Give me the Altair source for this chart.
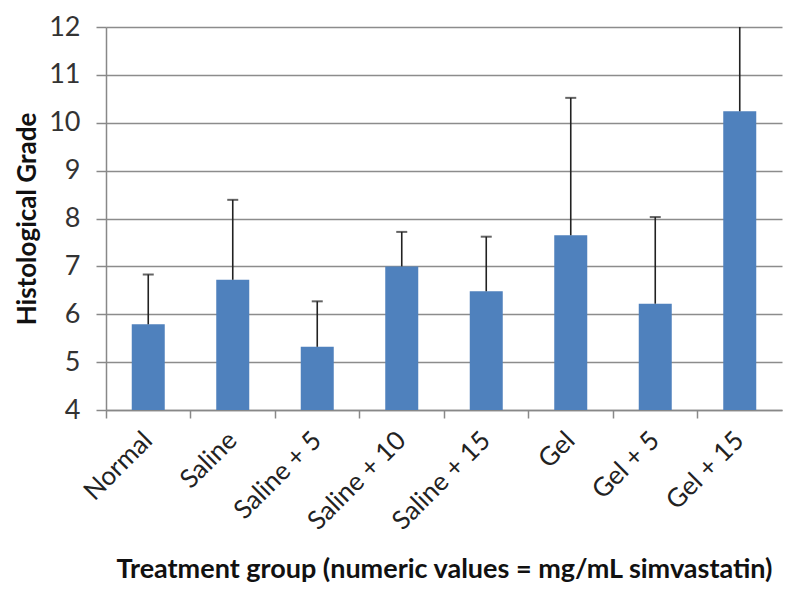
import altair as alt
import pandas as pd

groups = ["Normal", "Saline", "Saline + 5", "Saline + 10", "Saline + 15", "Gel", "Gel + 5", "Gel + 15"]
means = [5.79, 6.72, 5.32, 7.00, 6.48, 7.65, 6.22, 10.24]
upper = [6.83, 8.39, 6.27, 7.72, 7.62, 10.52, 8.03, 12.30]

df = pd.DataFrame({"group": groups, "mean": means, "upper": upper})

FONT = "Lato"
x = alt.X("group:N", sort=groups, title="Treatment group (numeric values = mg/mL simvastatin)",
          scale=alt.Scale(paddingInner=0, paddingOuter=0),
          axis=alt.Axis(bandPosition=0, labelAngle=-45, labelAlign="right",
                        labelBaseline="middle", labelPadding=18, tickSize=8, tickColor="#888",
                        domainColor="#888", domainWidth=1.5, tickWidth=1.5,
                        labelFont=FONT, labelFontSize=26, labelColor="#222",
                        titleFont=FONT, titleFontSize=27, titleFontWeight="bold", titleColor="#111",
                        titlePadding=22, grid=False))
y_scale = alt.Scale(domain=[4, 12], zero=False, nice=False)
y_axis = alt.Axis(values=list(range(4, 13)), tickSize=10, tickColor="#888", tickWidth=1.5,
                  domainColor="#888", domainWidth=1.5, gridColor="#8c8c8c", gridWidth=1.5,
                  labelFont=FONT, labelFontSize=27, labelColor="#333", labelPadding=16,
                  titleFont=FONT, titleFontSize=26, titleFontWeight="bold", titleColor="#111",
                  titlePadding=8)

base = alt.Chart(df)
bars = base.mark_bar(size=33, color="#4F81BD").encode(
    x=x,
    y=alt.Y("mean:Q", scale=y_scale, axis=y_axis, title="Histological  Grade"),
    y2=alt.datum(4),
)
err = base.mark_rule(color="#222", strokeWidth=1.6, clip=True).encode(
    x=alt.X("group:N", sort=groups), y="mean:Q", y2="upper:Q"
)
caps = base.mark_tick(color="#222", size=11, thickness=2, orient="horizontal", clip=True).encode(
    x=alt.X("group:N", sort=groups), y="upper:Q"
)

chart = (bars + err + caps).properties(
    width=676, height=383,
    autosize=alt.AutoSizeParams(type="none"),
    padding={"left": 98, "top": 19, "right": 10, "bottom": 180},
).configure_view(stroke=None)

chart.save("out.html", embed_options={"renderer": "svg", "actions": False})
